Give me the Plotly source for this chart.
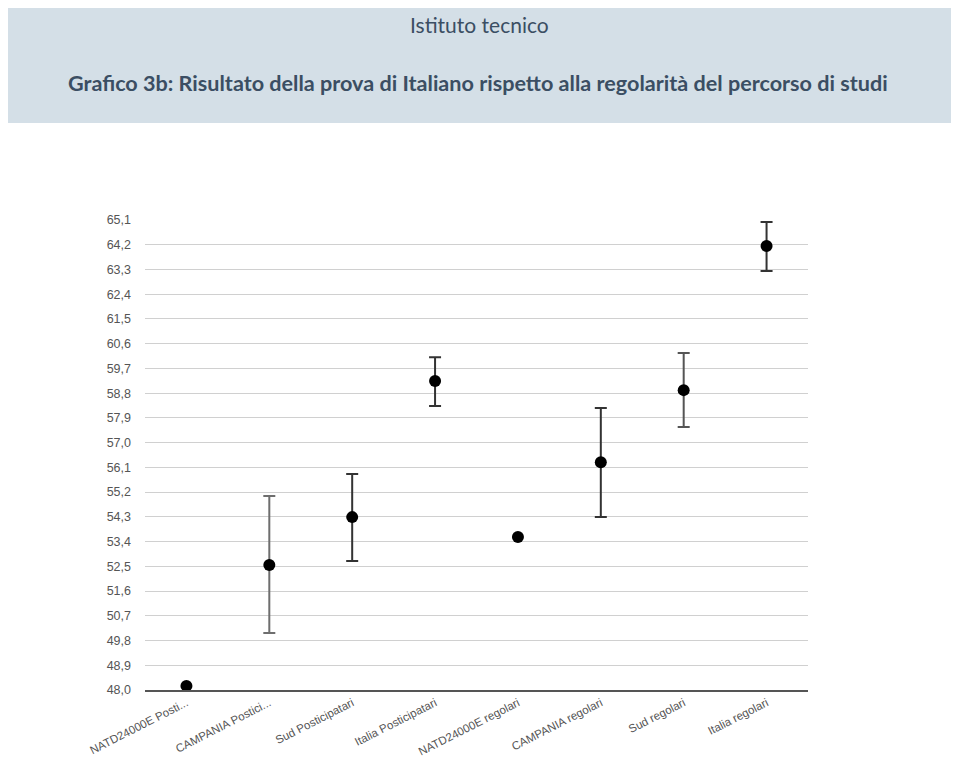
import plotly.graph_objects as go

categories = ["NATD24000E Posti...", "CAMPANIA Postici...", "Sud Posticipatari",
              "Italia Posticipatari", "NATD24000E regolari", "CAMPANIA regolari",
              "Sud regolari", "Italia regolari"]
means = [48.15, 52.55, 54.29, 59.24, 53.57, 56.29, 58.91, 64.15]
err_plus = [0.0, 2.51, 1.57, 0.87, 0.0, 1.97, 1.35, 0.88]
err_minus = [0.0, 2.48, 1.60, 0.91, 0.0, 2.00, 1.34, 0.91]
bar_colors = ["#333333", "#6e6e6e", "#333333", "#333333", "#333333", "#333333", "#555555", "#333333"]

tick_vals = [48.0, 48.9, 49.8, 50.7, 51.6, 52.5, 53.4, 54.3, 55.2, 56.1, 57.0,
             57.9, 58.8, 59.7, 60.6, 61.5, 62.4, 63.3, 64.2, 65.1]
tick_text = ["48,0", "48,9", "49,8", "50,7", "51,6", "52,5", "53,4", "54,3", "55,2",
             "56,1", "57,0", "57,9", "58,8", "59,7", "60,6", "61,5", "62,4", "63,3",
             "64,2", "65,1"]

fig = go.Figure()
for i, c in enumerate(categories):
    fig.add_trace(go.Scatter(
        x=[c], y=[means[i]], mode="markers",
        marker=dict(color="black", size=12),
        error_y=dict(type="data", symmetric=False, array=[err_plus[i]],
                     arrayminus=[err_minus[i]], color=bar_colors[i],
                     thickness=2, width=6, visible=err_plus[i] > 0),
        cliponaxis=False, showlegend=False,
    ))

# page body has an 8px margin; compensate so the figure lands like the reference
OFF = 8
W, H = 959 - 2 * OFF, 767 - 2 * OFF
L = 145 - OFF
R = W - (808 - OFF)
T = 220 - OFF
B = H - (690 - OFF)
pw, ph = W - L - R, H - T - B

def px_x(p):
    return (p - OFF - L) / pw

def px_y(p):
    return (H - B - (p - OFF)) / ph

fig.add_shape(type="rect", xref="paper", yref="paper",
              x0=px_x(3), x1=px_x(960), y0=px_y(123), y1=px_y(2),
              fillcolor="#d4dfe7", line=dict(width=0), layer="below")

fig.add_annotation(xref="paper", yref="paper", x=px_x(479), y=px_y(25),
                   text="Istituto tecnico", showarrow=False,
                   font=dict(family="Lato", size=21, color="#3b4e63"),
                   xanchor="center", yanchor="middle")
fig.add_annotation(xref="paper", yref="paper", x=px_x(478), y=px_y(83),
                   text="<b>Grafico 3b: Risultato della prova di Italiano rispetto alla regolarità del percorso di studi</b>",
                   showarrow=False,
                   font=dict(family="Lato", size=21.6, color="#3b4e63"),
                   xanchor="center", yanchor="middle")

fig.update_layout(
    width=W, height=H,
    margin=dict(l=L, r=R, t=T, b=B, autoexpand=False),
    paper_bgcolor="white", plot_bgcolor="white",
    font=dict(family="Liberation Sans", size=12, color="#555555"),
    separators=",.",
    xaxis=dict(type="category", categoryorder="array", categoryarray=categories,
               tickangle=-27, showgrid=False, showline=True, linecolor="#555555",
               linewidth=2, ticks="", tickfont=dict(size=11.5, color="#555555"),
               range=[-0.5, 7.5], automargin=False),
    yaxis=dict(range=[48.0, 65.1], tickvals=tick_vals, ticktext=tick_text,
               showgrid=True, gridcolor="#d0d0d0", gridwidth=1, zeroline=False,
               showline=False, ticks="", ticklabelstandoff=13, automargin=False,
               tickfont=dict(size=12.5, color="#555555")),
)

fig.write_html("out.html")
